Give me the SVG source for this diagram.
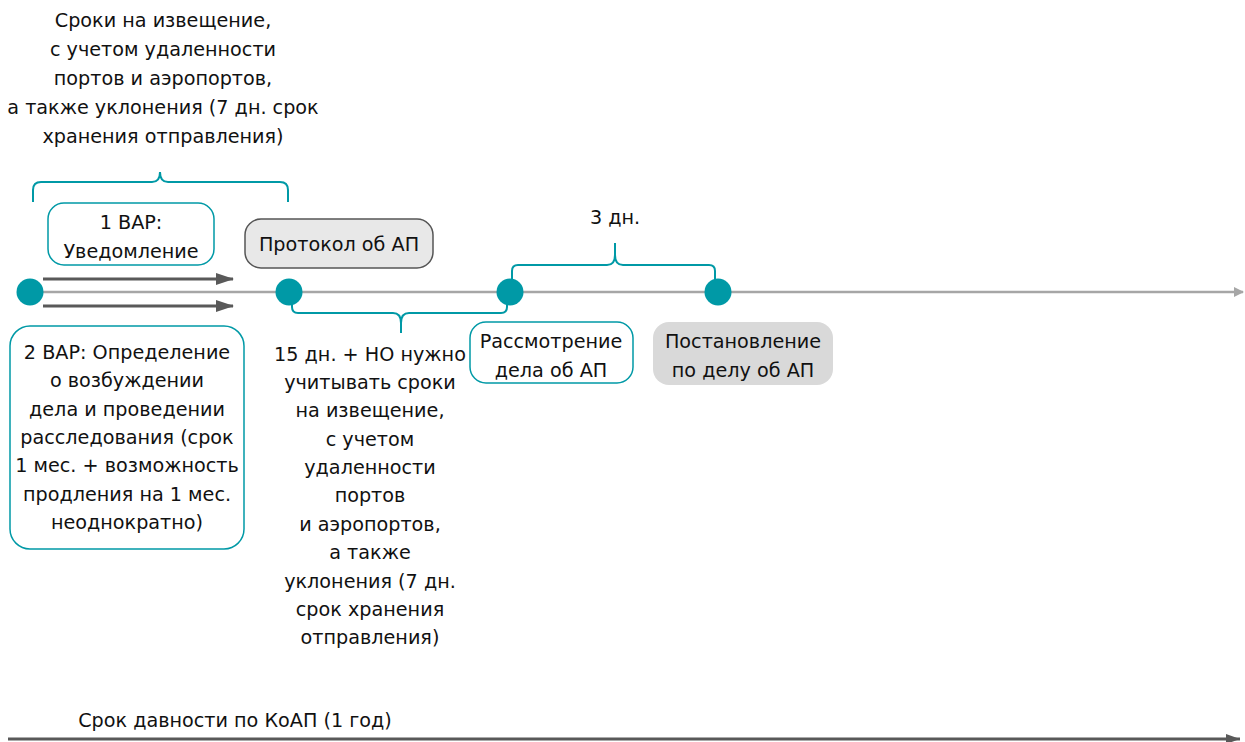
<svg xmlns="http://www.w3.org/2000/svg" width="1245" height="742" viewBox="0 0 1245 742">
<defs>
<style>
text{font-family:"DejaVu Sans","Liberation Sans",sans-serif;font-size:19.2px;fill:#111;text-anchor:middle}
.brace{fill:none;stroke:#0099a6;stroke-width:2}
.dot{fill:#0099a6}
.tbox{fill:#fff;stroke:#0099a6;stroke-width:1.5}
</style>
<marker id="ag" markerWidth="10" markerHeight="10" refX="9" refY="5" orient="auto" markerUnits="userSpaceOnUse"><path d="M0,0 L10,5 L0,10 Z" fill="#a6a6a6"/></marker>
<marker id="ad" markerWidth="18" markerHeight="12" refX="17" refY="6" orient="auto" markerUnits="userSpaceOnUse"><path d="M0,0 L18,6 L0,12 Z" fill="#595959"/></marker>
<marker id="ab" markerWidth="14" markerHeight="10" refX="14" refY="5" orient="auto" markerUnits="userSpaceOnUse"><path d="M0,0 L14,5 L0,10 Z" fill="#595959"/></marker>
</defs>

<g id="connectors">
<line x1="30" y1="292" x2="1243" y2="292" stroke="#a6a6a6" stroke-width="2.5" marker-end="url(#ag)"/>
<line x1="43" y1="279" x2="233" y2="279" stroke="#595959" stroke-width="3" marker-end="url(#ad)"/>
<line x1="43" y1="306" x2="233" y2="306" stroke="#595959" stroke-width="3" marker-end="url(#ad)"/>
<line x1="8" y1="739" x2="1240" y2="739" stroke="#595959" stroke-width="3" marker-end="url(#ab)"/>
<path class="brace" d="M33,202 V190 Q33,182 41,182 H152 Q160,182 160,172 Q160,182 168,182 H280 Q288,182 288,190 V202"/>
<path class="brace" d="M292,303 V307 Q292,313 298,313 H393 Q401,313 401,323 V333 M401,323 Q401,313 409,313 H501 Q507,313 507,307 V303"/>
<path class="brace" d="M512,280 V271 Q512,265 518,265 H607 Q615,265 615,255 V243 M615,255 Q615,265 623,265 H709 Q715,265 715,271 V280"/>
</g>

<g id="dot1"><circle class="dot" cx="30" cy="292" r="13.5"/></g>
<g id="dot2"><circle class="dot" cx="289" cy="292" r="13.5"/></g>
<g id="dot3"><circle class="dot" cx="510" cy="292" r="13.5"/></g>
<g id="dot4"><circle class="dot" cx="718" cy="292" r="13.5"/></g>

<g id="top-note">
<text x="163" y="27">Сроки на извещение,</text>
<text x="163" y="56">с учетом удаленности</text>
<text x="163" y="85">портов и аэропортов,</text>
<text x="163" y="114">а также уклонения (7 дн. срок</text>
<text x="163" y="143">хранения отправления)</text>
</g>

<g id="var1">
<rect class="tbox" x="48" y="203" width="166" height="62" rx="16"/>
<text x="131" y="229">1 ВАР:</text>
<text x="131" y="258">Уведомление</text>
</g>

<g id="protocol">
<rect x="245" y="219" width="188" height="49" rx="16" fill="#e8e8e8" stroke="#555" stroke-width="1.5"/>
<text x="339" y="251">Протокол об АП</text>
</g>

<g id="three-days"><text x="615" y="224">3 дн.</text></g>

<g id="review">
<rect class="tbox" x="470" y="322" width="163" height="61" rx="16"/>
<text x="551" y="348">Рассмотрение</text>
<text x="551" y="377">дела об АП</text>
</g>

<g id="decision">
<rect x="653" y="322" width="180" height="63" rx="16" fill="#d9d9d9"/>
<text x="743" y="348">Постановление</text>
<text x="743" y="377">по делу об АП</text>
</g>

<g id="var2">
<rect class="tbox" x="10" y="326" width="234" height="223" rx="20"/>
<text x="127" y="359">2 ВАР: Определение</text>
<text x="127" y="387">о возбуждении</text>
<text x="127" y="416">дела и проведении</text>
<text x="127" y="444">расследования (срок</text>
<text x="127" y="472">1 мес. + возможность</text>
<text x="127" y="501">продления на 1 мес.</text>
<text x="127" y="529">неоднократно)</text>
</g>

<g id="fifteen-days">
<text x="370" y="361">15 дн. + НО нужно</text>
<text x="370" y="389">учитывать сроки</text>
<text x="370" y="417">на извещение,</text>
<text x="370" y="446">с учетом</text>
<text x="370" y="474">удаленности</text>
<text x="370" y="502">портов</text>
<text x="370" y="531">и аэропортов,</text>
<text x="370" y="559">а также</text>
<text x="370" y="588">уклонения (7 дн.</text>
<text x="370" y="616">срок хранения</text>
<text x="370" y="644">отправления)</text>
</g>

<g id="limitation"><text x="235" y="727">Срок давности по КоАП (1 год)</text></g>
</svg>
